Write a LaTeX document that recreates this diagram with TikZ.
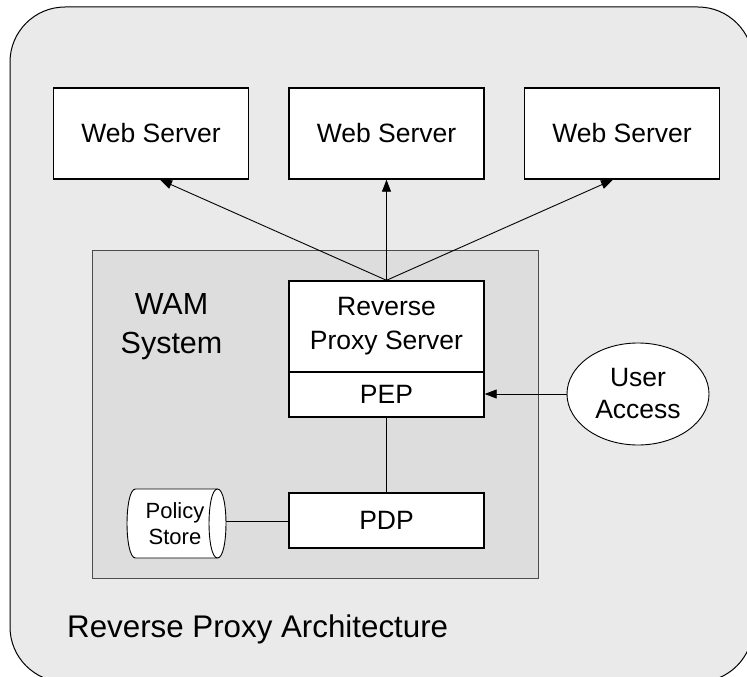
\documentclass[tikz,border=0pt]{standalone}
\usepackage{fontspec}
\setmainfont{Liberation Sans}
\usetikzlibrary{arrows.meta,shapes.geometric}
\definecolor{outerbg}{HTML}{EAEAEA}
\definecolor{innerbg}{HTML}{DDDDDD}
\begin{document}
\begin{tikzpicture}[x=1pt,y=-1pt,
  box/.style={draw=black, line width=1.4pt, fill=white, inner sep=0pt, minimum width=195pt, font=\fontsize{26.5}{34}\selectfont, align=center},
  conn/.style={line width=0.9pt, draw=black},
  arr/.style={conn, -{Triangle[length=12pt,width=9pt]}},
  thin/.style={line width=0.9pt, draw=black}
]
\useasboundingbox (0,0) rectangle (747,677);
\begin{scope}
\clip (0,0) rectangle (747,677);
\draw[fill=outerbg, draw=black, line width=1pt, rounded corners=55pt] (10,7) rectangle (753,682);
\end{scope}

\node[draw=black!70, line width=0.9pt, fill=innerbg, minimum width=446pt, minimum height=328pt, inner sep=0pt] (wam) at (315,414) {};
\node[font=\fontsize{30.5}{39}\selectfont, align=center, inner sep=0pt] (wamlabel) at (171.5,327) {WAM\\System};

\node[box, minimum height=91pt] (ws1) at (151,133.5) {Web Server};
\node[box, minimum height=91pt] (ws2) at (386.5,133.5) {Web Server};
\node[box, minimum height=91pt] (ws3) at (622,133.5) {Web Server};

\node[box, minimum height=91pt] (rps) at (386.5,326.5) {Reverse\\Proxy Server};
\node[box, minimum height=45pt] (pep) at (386.5,394.5) {PEP};
\node[box, minimum height=55pt] (pdp) at (386.5,520.5) {PDP};

\draw[thin, fill=white] (217.5,489) -- (135.5,489) .. controls (124.2,489) and (124.2,558) .. (135.5,558) -- (217.5,558) .. controls (228.8,558) and (228.8,489) .. (217.5,489) -- cycle;
\draw[thin] (217.5,489) .. controls (206.2,489) and (206.2,558) .. (217.5,558);
\node[minimum width=99pt, minimum height=69pt, inner sep=0pt, align=center, font=\fontsize{22}{26}\selectfont] (ps) at (175,523.5) {Policy\\Store};
\coordinate (psr) at (226,521.5);

\node[ellipse, thin, fill=white, minimum width=142pt, minimum height=102pt, inner sep=0pt, align=center, font=\fontsize{26.5}{32}\selectfont] (ua) at (638,394) {User\\Access};

\draw[arr] (rps.north) -- (ws2.south);
\draw[arr] (rps.north) -- ([xshift=9pt]ws1.south);
\draw[arr] (rps.north) -- ([xshift=-9pt]ws3.south);
\draw[arr] (ua.west) -- (ua.west -| pep.east);
\draw[conn] (pep.south) -- (pdp.north);
\draw[conn] (psr) -- (psr -| pdp.west);

\node[font=\fontsize{31.3}{36}\selectfont, anchor=base west, inner sep=0pt] (title) at (67,637) {Reverse Proxy Architecture};
\end{tikzpicture}
\end{document}
